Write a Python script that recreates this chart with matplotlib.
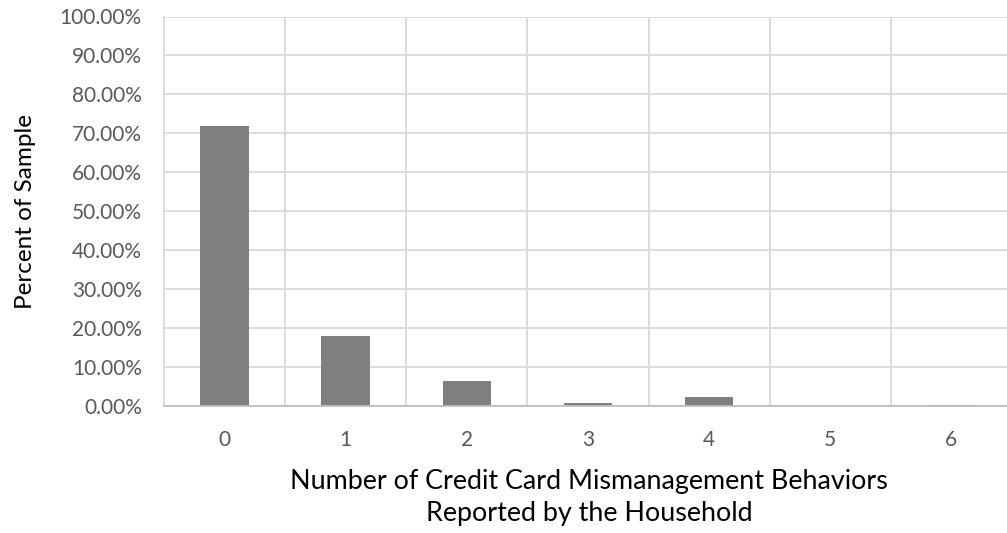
import matplotlib
matplotlib.use("Agg")
import matplotlib.pyplot as plt
from matplotlib.ticker import FuncFormatter

# Share of households by number of reported credit card mismanagement behaviors
categories = ["0", "1", "2", "3", "4", "5", "6"]
percent_of_sample = [72.0, 18.0, 6.5, 0.7, 2.4, 0.0, 0.3]
y_ticks = [0, 10, 20, 30, 40, 50, 60, 70, 80, 90, 100]

plt.rcParams["font.family"] = ["Lato", "DejaVu Sans"]

W, H = 1007, 533
fig = plt.figure(figsize=(W / 100, H / 100), dpi=100)

left, right, top, bottom = 164, 1012, 16.5, 406
ax = fig.add_axes([left / W, 1 - bottom / H, (right - left) / W, (bottom - top) / H])

x = list(range(len(categories)))
ax.bar(x, percent_of_sample, width=0.4, color="#7f7f7f", zorder=3)

ax.set_xlim(-0.5, len(categories) - 0.5)
ax.set_ylim(0, 100)
ax.set_yticks(y_ticks)
ax.yaxis.set_major_formatter(FuncFormatter(lambda v, _: f"{v:.2f}%"))
ax.set_xticks(x)
ax.set_xticklabels(categories)

# category boundary gridlines and horizontal gridlines
for b in [i + 0.5 for i in range(len(categories) - 1)]:
    ax.axvline(b, color="#d9d9d9", lw=1.3, zorder=1)
ax.grid(axis="y", color="#d9d9d9", lw=1.3, zorder=1)

for s in ["top", "right"]:
    ax.spines[s].set_visible(False)
ax.spines["left"].set_color("#d9d9d9")
ax.spines["left"].set_linewidth(1.3)
ax.spines["bottom"].set_color("#bfbfbf")
ax.spines["bottom"].set_linewidth(1.3)
ax.spines["bottom"].set_zorder(4)

ax.tick_params(axis="both", length=0, colors="#595959", labelsize=15)
ax.tick_params(axis="y", pad=16)
ax.tick_params(axis="x", pad=17)

ax.set_ylabel("Percent of Sample", fontsize=17.5, color="black", labelpad=17)

fig.text(589 / W, 1 - 469 / H,
         "Number of Credit Card Mismanagement Behaviors\nReported by the Household",
         ha="center", va="top", fontsize=19.4, color="black", linespacing=1.35)

fig.savefig("out.png", dpi=100, facecolor="white")
